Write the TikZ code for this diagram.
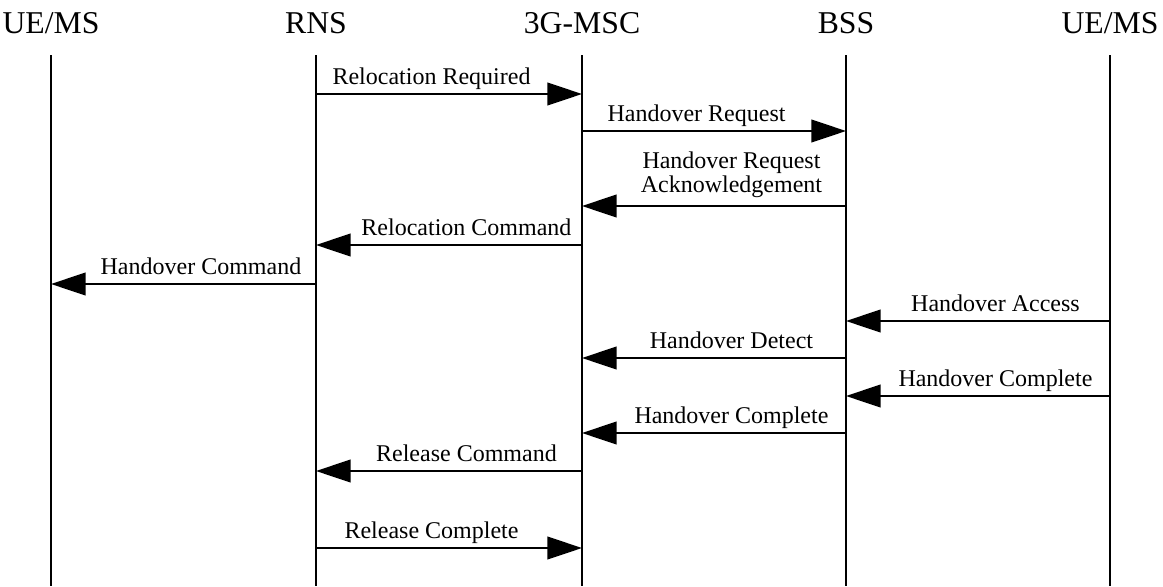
\documentclass[tikz,border=0pt]{standalone}
\usepackage{fontspec}
\setmainfont{Liberation Serif}
\usetikzlibrary{arrows.meta,calc}

\tikzset{
  entity/.style={anchor=base, inner sep=0pt, font=\fontsize{23.8}{27}\selectfont},
  life/.style={line width=1.5pt},
  msg/.style={line width=1.5pt, -{Triangle[length=26pt,width=17pt]}},
  msglabel/.style={anchor=base, inner sep=0pt, font=\fontsize{18}{17.5}\selectfont, align=center}
}

\begin{document}
\begin{tikzpicture}[x=0.75pt, y=-0.75pt]
        \useasboundingbox (0,0) rectangle (1163,586);

        % Entities
        \node[entity] (ue1) at (51,33) {UE/MS};
        \node[entity] (rns) at (316,33) {RNS};
        \node[entity] (msc) at (582,33) {3G-MSC};
        \node[entity] (bss) at (846,33) {BSS};
        \node[entity] (ue2) at (1110,33) {UE/MS};

        % Lifelines
        \foreach \e in {ue1,rns,msc,bss,ue2} {
            \draw[life] (\e |- 0,55) -- (\e |- 0,586);
        }

        % Messages
        \foreach \a/\b/\y/\s/\t in {
            rns/msc/94/-1/Relocation Required,
            msc/bss/131/-1/Handover Request,
            msc/rns/245/1/Relocation Command,
            rns/ue1/284/1/Handover Command,
            ue2/bss/321/1/Handover Access,
            bss/msc/358/1/Handover Detect,
            ue2/bss/396/1/Handover Complete,
            bss/msc/433/1/Handover Complete,
            msc/rns/471/1/Release Command,
            rns/msc/548/-1/Release Complete} {
            \draw[msg] (\a |- 0,\y) -- (\b |- 0,\y);
            \node[msglabel, xshift={\s*13.1pt}, yshift=7.5pt]
                at ($(\a |- 0,\y)!0.5!(\b |- 0,\y)$) {\t};
        }

        % Two-line acknowledgement
        \draw[msg] (bss |- 0,206) -- (msc |- 0,206);
        \node[msglabel, xshift=13.1pt, yshift=10.5pt] (ack)
            at ($(bss |- 0,206)!0.5!(msc |- 0,206)$) {Handover Request\\Acknowledgement};

\end{tikzpicture}
\end{document}
